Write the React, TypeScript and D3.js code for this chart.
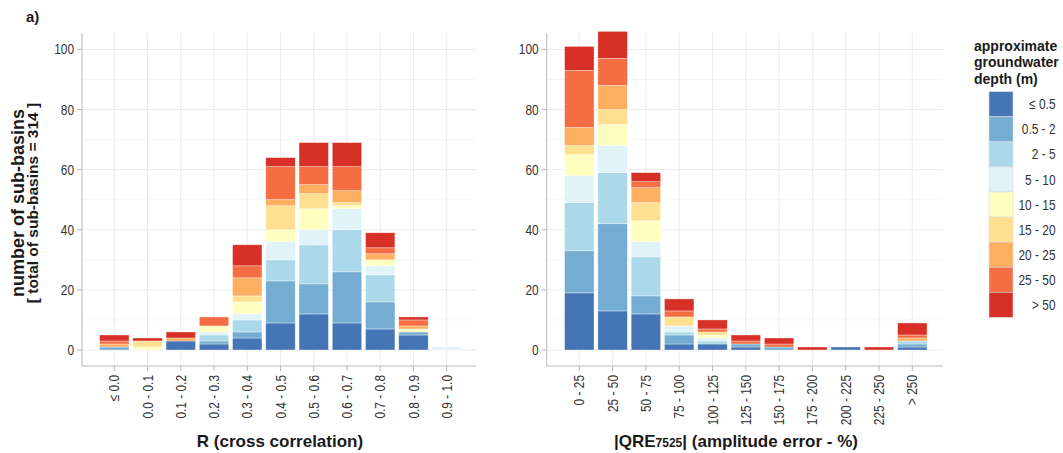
import React from "react";
import { scaleLinear, scalePoint, stack } from "d3";

// depth classes (legend)
const depthClasses = ["≤ 0.5", "0.5 - 2", "2 - 5", "5 - 10", "10 - 15", "15 - 20", "20 - 25", "25 - 50", "> 50"];
const depthColors = ["#4575b4", "#74add1", "#abd9e9", "#e0f3f8", "#ffffbf", "#fee090", "#fdae61", "#f46d43", "#d73027"];

// left panel: R (cross correlation)
const rCats = ["≤ 0.0", "0.0 - 0.1", "0.1 - 0.2", "0.2 - 0.3", "0.3 - 0.4", "0.4 - 0.5", "0.5 - 0.6", "0.6 - 0.7", "0.7 - 0.8", "0.8 - 0.9", "0.9 - 1.0"];
const rCounts = [
  [0, 0, 3, 2, 4, 9, 12, 9, 7, 5, 0],
  [1, 0, 0, 1, 2, 14, 10, 17, 9, 1, 0],
  [0, 0, 0, 2, 4, 7, 13, 14, 9, 0, 0],
  [0, 0, 0, 1, 2, 6, 5, 7, 3, 0, 1],
  [0, 1, 0, 2, 4, 4, 7, 1, 2, 1, 0],
  [0, 2, 0, 0, 2, 8, 5, 1, 0, 0, 0],
  [1, 0, 1, 0, 6, 2, 3, 4, 2, 1, 0],
  [1, 0, 0, 3, 4, 11, 6, 8, 2, 2, 0],
  [2, 1, 2, 0, 7, 3, 8, 8, 5, 1, 0],
];

// right panel: |QRE7525|
const qCats = ["0 - 25", "25 - 50", "50 - 75", "75 - 100", "100 - 125", "125 - 150", "150 - 175", "175 - 200", "200 - 225", "225 - 250", "> 250"];
const qCounts = [
  [19, 13, 12, 2, 2, 1, 0, 0, 1, 0, 1],
  [14, 29, 6, 3, 0, 1, 1, 0, 0, 0, 1],
  [16, 17, 13, 1, 1, 0, 0, 0, 0, 0, 1],
  [9, 9, 5, 2, 1, 0, 0, 0, 0, 0, 0],
  [7, 7, 7, 0, 1, 0, 0, 0, 0, 0, 0],
  [3, 5, 6, 3, 1, 0, 0, 0, 0, 0, 0],
  [6, 8, 5, 0, 0, 0, 0, 0, 0, 0, 1],
  [19, 9, 2, 2, 1, 1, 1, 0, 0, 0, 1],
  [8, 9, 3, 4, 3, 2, 2, 1, 0, 1, 4],
];

const yTicks = [0, 20, 40, 60, 80, 100];
const yMinor = [10, 30, 50, 70, 90];

const sans = "'Liberation Sans', Arial, sans-serif";

const top = 33;
const bottom = 366;
const y = scaleLinear().domain([0, 100]).range([350, 49.4]);

// condensed text (Arial Narrow look) by squeezing Liberation Sans along the text direction
const NText = ({ x, y, rotate = 0, anchor = "start", fill = "#333", size = 14.5, children }) => (
  <text
    transform={`translate(${x},${y}) rotate(${rotate}) scale(0.82,1)`}
    dy="0.35em"
    textAnchor={anchor}
    fontFamily={sans}
    fontSize={size}
    fill={fill}
  >
    {children}
  </text>
);

const Panel = ({ cats, counts, left, right, c0, c1 }) => {
  const x = scalePoint().domain(cats).range([c0, c1]);
  const bw = x.step() * 0.885;
  const table = cats.map((c, i) => {
    const row = { cat: c };
    depthClasses.forEach((k, j) => (row[k] = counts[j][i]));
    return row;
  });
  const series = stack().keys(depthClasses)(table);

  return (
    <g>
      {yMinor.map(t => (
        <line key={"m" + t} x1={left} x2={right} y1={y(t)} y2={y(t)} stroke="#f4f4f4" strokeWidth={0.8} />
      ))}
      {yTicks.map(t => (
        <line key={"g" + t} x1={left} x2={right} y1={y(t)} y2={y(t)} stroke="#ebebeb" strokeWidth={1} />
      ))}
      {cats.map(c => (
        <line key={"v" + c} x1={x(c)} x2={x(c)} y1={top} y2={bottom} stroke="#ebebeb" strokeWidth={1} />
      ))}

      {series.map((s, j) =>
        s.map((d, i) =>
          d[1] - d[0] > 0 ? (
            <rect
              key={j + "-" + i}
              x={x(cats[i]) - bw / 2}
              y={y(d[1])}
              width={bw}
              height={y(d[0]) - y(d[1])}
              fill={depthColors[j]}
              stroke="#ffffff"
              strokeOpacity={0.6}
              strokeWidth={0.6}
            />
          ) : null
        )
      )}

      <line x1={left} x2={left} y1={top} y2={bottom} stroke="#b8b8b8" />
      <line x1={left} x2={right} y1={bottom} y2={bottom} stroke="#b8b8b8" />
      {yTicks.map(t => (
        <g key={"t" + t}>
          <line x1={left - 5} x2={left} y1={y(t)} y2={y(t)} stroke="#b8b8b8" />
          <NText x={left - 8} y={y(t)} anchor="end">{t}</NText>
        </g>
      ))}
      {cats.map(c => (
        <g key={"x" + c}>
          <line x1={x(c)} x2={x(c)} y1={bottom} y2={bottom + 5} stroke="#b8b8b8" />
          <NText x={x(c)} y={bottom + 9} rotate={-90} anchor="end">{c}</NText>
        </g>
      ))}
    </g>
  );
};

const App = () => {
  return (
    <svg width={1063} height={453} style={{ position: "absolute", left: 0, top: 0, background: "#fff" }}>
      <text x={26} y={22} fontFamily={sans} fontWeight="bold" fontSize={15} fill="#1a1a1a">a)</text>

      <g transform="rotate(-90)" fontFamily={sans} fontWeight="bold" fill="#1a1a1a" textAnchor="middle">
        <text x={-203} y={24} fontSize={18}>number of sub-basins</text>
        <text x={-203} y={37.5} fontSize={15.5}>[ total of sub-basins = 314 ]</text>
      </g>

      <Panel cats={rCats} counts={rCounts} left={82} right={476} c0={114.3} c1={446.7} />
      <Panel cats={qCats} counts={qCounts} left={546.7} right={943} c0={579.3} c1={912.3} />

      <text x={280} y={447} textAnchor="middle" fontFamily={sans} fontWeight="bold" fontSize={17} fill="#1a1a1a">
        R (cross correlation)
      </text>
      <text x={736} y={447} textAnchor="middle" fontFamily={sans} fontWeight="bold" fontSize={17} fill="#1a1a1a">
        |QRE<tspan fontSize={12}>7525</tspan>| (amplitude error - %)
      </text>

      <g fontFamily={sans} fontWeight="bold" fontSize={14} fill="#1a1a1a">
        <text x={974} y={50.5}>approximate</text>
        <text x={974} y={67}>groundwater</text>
        <text x={974} y={83.5}>depth (m)</text>
      </g>
      {depthClasses.map((k, i) => (
        <g key={k}>
          <rect x={989} y={91.7 + i * 25.07} width={24} height={25.07} fill={depthColors[i]} stroke="#d9d9d9" strokeWidth={0.6} />
          <NText x={1055.5} y={91.7 + i * 25.07 + 12.5} anchor="end">{k}</NText>
        </g>
      ))}
    </svg>
  );
};

export default App;
